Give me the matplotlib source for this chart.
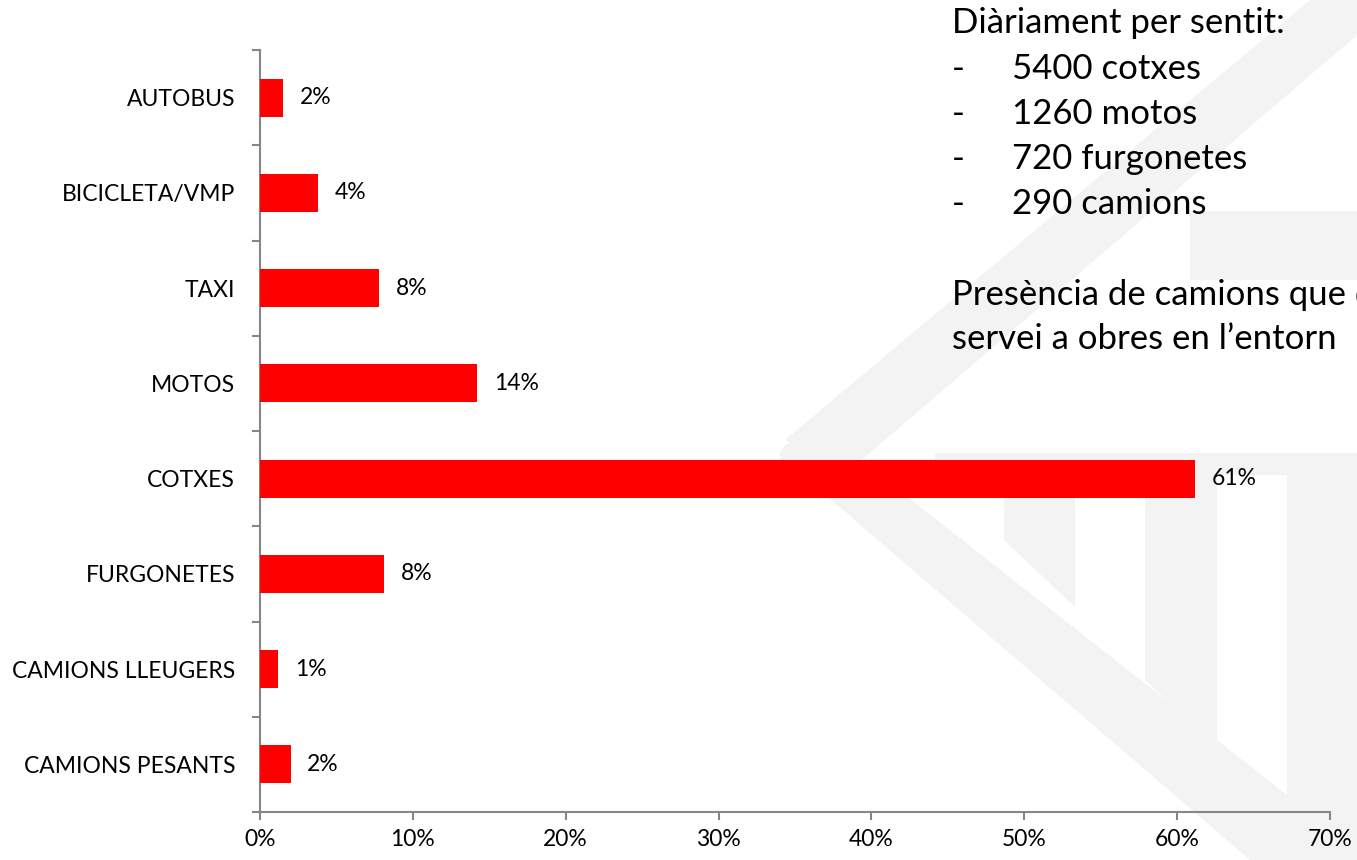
import matplotlib.pyplot as plt
from matplotlib.patches import Polygon, Circle

plt.rcParams['font.family'] = ['Lato', 'DejaVu Sans']

# Dades
categories = ["AUTOBUS", "BICICLETA/VMP", "TAXI", "MOTOS", "COTXES",
              "FURGONETES", "CAMIONS LLEUGERS", "CAMIONS PESANTS"]
percentatges = [0.015, 0.038, 0.078, 0.142, 0.612, 0.081, 0.012, 0.020]
xticks = [0.0, 0.1, 0.2, 0.3, 0.4, 0.5, 0.6, 0.7]

titol_text = "Diàriament per sentit:"
llista_text = ["5400 cotxes", "1260 motos", "720 furgonetes", "290 camions"]
nota_text = ["Presència de camions que d", "servei a obres en l’entorn"]

W, H = 1357, 860
fig = plt.figure(figsize=(W / 100, H / 100), dpi=100)


def px(x, y):
    return (x / W, 1 - y / H)


# marca d'aigua de fons (gris molt clar)
gris = '#f3f3f3'
formes = [
    [(1310, 0), (1357, 0), (1357, 35), (850, 470), (785, 440)],
    [(785, 460), (835, 440), (1357, 850), (1357, 860), (1250, 860)],
    [(935, 453), (1357, 453), (1357, 475), (935, 475)],
    [(1190, 211), (1357, 211), (1357, 280), (1190, 280)],
    [(1004, 475), (1075, 475), (1075, 607), (1004, 540)],
    [(1145, 475), (1217, 475), (1217, 747), (1145, 680)],
    [(1287, 475), (1357, 475), (1357, 860), (1287, 860)],
]
for f in formes:
    fig.patches.append(Polygon([px(*p) for p in f], closed=True, facecolor=gris,
                               edgecolor='none', transform=fig.transFigure, zorder=-5))
fig.patches.append(Circle(px(805, 455), 25 / W, facecolor=gris, edgecolor='none',
                          transform=fig.transFigure, zorder=-5))

ax = fig.add_axes([260 / W, 1 - 812 / H, 1070 / W, 762 / H])
ax.patch.set_alpha(0)

y = list(range(len(categories)))
ax.barh(y, percentatges, height=0.4, color='#ff0000', zorder=3)

fs = 16.5
for yi, v in zip(y, percentatges):
    ax.annotate(f"{v:.0%}", (v, yi), xytext=(12, 0), textcoords='offset points',
                va='center', ha='left', fontsize=fs, color='black')

ax.set_ylim(len(categories) - 0.5, -0.5)
ax.set_xlim(0, 0.7)
ax.set_yticks(y)
ax.set_yticklabels(categories, fontsize=fs)
ax.set_yticks([i - 0.5 for i in range(len(categories) + 1)], minor=True)
ax.tick_params(axis='y', which='major', length=0, pad=18)
ax.tick_params(axis='y', which='minor', length=6, width=1.5, color='#868686')

ax.set_xticks(xticks)
ax.set_xticklabels([f"{t:.0%}" for t in xticks], fontsize=fs)
ax.tick_params(axis='x', length=6, width=1.5, color='#868686', pad=6)

for s in ['top', 'right']:
    ax.spines[s].set_visible(False)
for s in ['left', 'bottom']:
    ax.spines[s].set_color('#868686')
    ax.spines[s].set_linewidth(1.5)

# text de la dreta
ft = 25
fig.text(*px(952, 33), titol_text, fontsize=ft, va='baseline', ha='left')
for i, t in enumerate(llista_text):
    yy = 79 + i * 45
    fig.text(*px(952, yy), "-", fontsize=ft, va='baseline', ha='left')
    fig.text(*px(1012, yy), t, fontsize=ft, va='baseline', ha='left')
for i, t in enumerate(nota_text):
    fig.text(*px(952, 305 + i * 44), t, fontsize=ft, va='baseline', ha='left')

fig.savefig("out.png", dpi=100)
